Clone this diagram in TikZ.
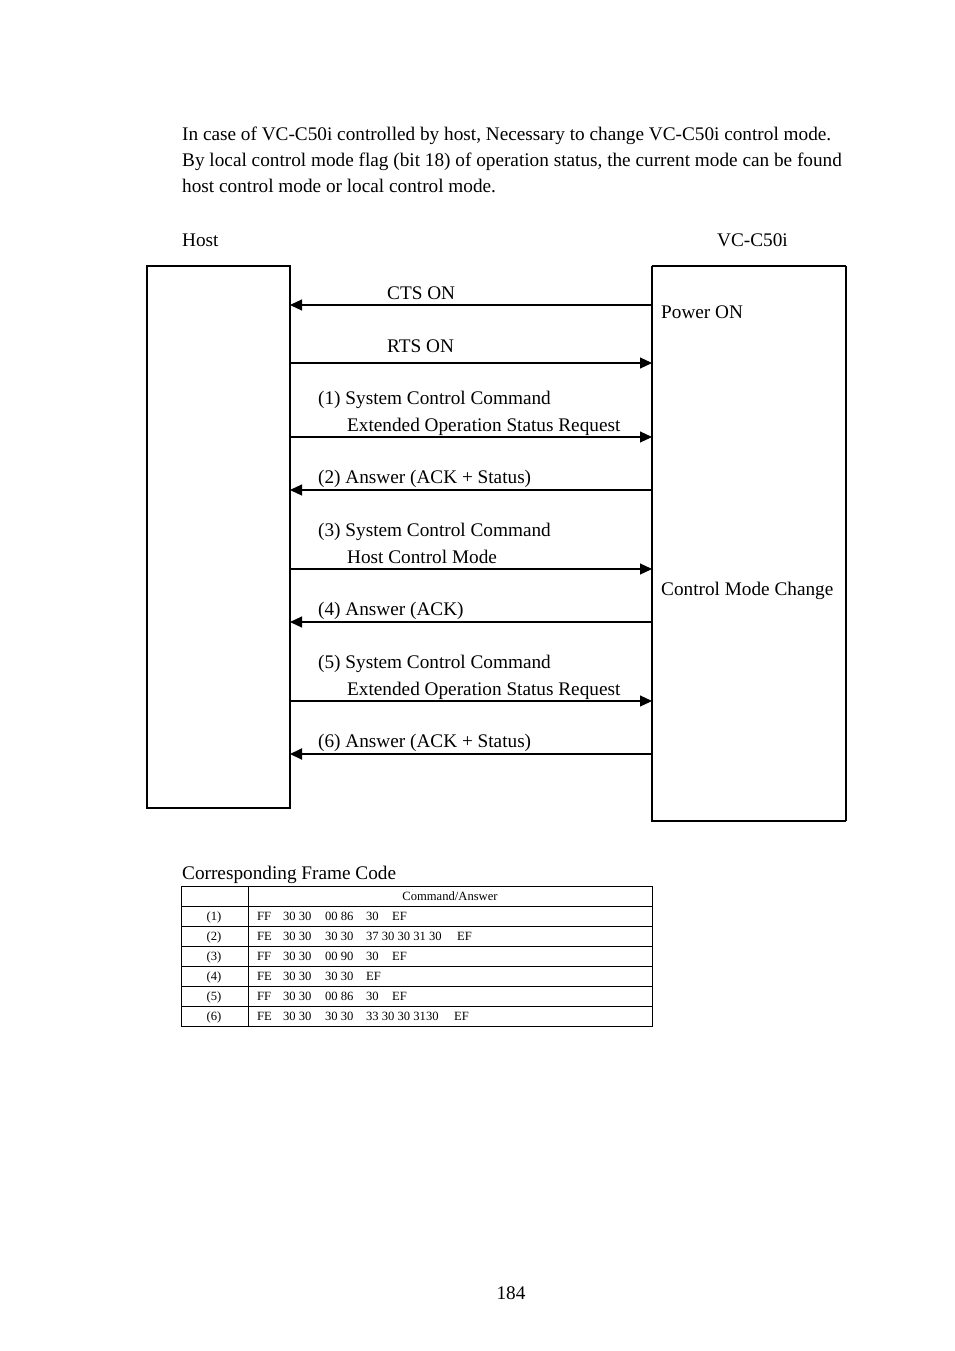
\documentclass[tikz,border=0pt]{standalone}
\usepackage{fontspec}
\setmainfont{Liberation Serif}
\usetikzlibrary{arrows.meta}
\begin{document}
\begin{tikzpicture}[x=1pt,y=-1pt,
  txt/.style={anchor=base west,inner sep=0pt,font=\fontsize{19.25}{24}\selectfont},
  tbl/.style={anchor=base west,inner sep=0pt,font=\fontsize{12.6}{14}\selectfont},
  tblc/.style={anchor=base,inner sep=0pt,font=\fontsize{12.6}{14}\selectfont},
  lifebox/.style={draw,line width=1.2pt,inner sep=0pt},
  msg/.style={line width=1.2pt,-{Triangle[length=12pt,width=11pt]}},
  grid/.style={line width=1pt}]
\useasboundingbox (0,0) rectangle (954,1351);

% intro text
\node[txt] (p1) at (182,141) {In case of VC-C50i controlled by host, Necessary to change VC-C50i control mode.};
\node[txt] (p2) at (182,167) {By local control mode flag (bit 18) of operation status, the current mode can be found};
\node[txt] (p3) at (182,193) {host control mode or local control mode.};

\node[txt] (hostlbl) at (182,246) {Host};
\node[txt] (vclbl) at (717,246) {VC-C50i};

% boxes
\draw[lifebox] (147,266) rectangle (290,808);
\draw[lifebox] (652,266) -- (846,266);
\draw[lifebox] (652,266) -- (652,821) -- (846,821);
\draw[line width=2pt] (846,266) -- (846,821);

\node[txt] (pon) at (661,318) {Power ON};
\node[txt] (cmc) at (661,595) {Control Mode Change};

% lifeline coordinates
\foreach \n/\y in {1/305,2/363,3/437,4/490,5/569,6/622,7/701,8/754}{
  \coordinate (h\n) at (290,\y);
  \coordinate (v\n) at (652,\y);
}

\draw[msg] (v1) -- (h1);
\node[txt] (l1) at (387,299) {CTS ON};

\draw[msg] (h2) -- (v2);
\node[txt] (l2) at (387,352) {RTS ON};

\node[txt] (l3a) at (318,404) {(1) System Control Command};
\node[txt] (l3b) at (347,431) {Extended Operation Status Request};
\draw[msg] (h3) -- (v3);

\node[txt] (l4) at (318,483) {(2) Answer (ACK + Status)};
\draw[msg] (v4) -- (h4);

\node[txt] (l5a) at (318,536) {(3) System Control Command};
\node[txt] (l5b) at (347,563) {Host Control Mode};
\draw[msg] (h5) -- (v5);

\node[txt] (l6) at (318,615) {(4) Answer (ACK)};
\draw[msg] (v6) -- (h6);

\node[txt] (l7a) at (318,668) {(5) System Control Command};
\node[txt] (l7b) at (347,695) {Extended Operation Status Request};
\draw[msg] (h7) -- (v7);

\node[txt] (l8) at (318,747) {(6) Answer (ACK + Status)};
\draw[msg,line width=2pt] (v8) -- (h8);

% table
\node[txt] (tcap) at (182,879) {Corresponding Frame Code};
\draw[grid] (181,886) rectangle (652,1026);
\draw[grid] (248,886) -- (248,1026);
\foreach \y in {906,926,946,966,986,1006}{
  \draw[grid] (181,\y) -- (652,\y);
}
\node[tblc] (th) at (450,900) {Command/Answer};
\foreach \i/\y in {1/920,2/940,3/960,4/980,5/1000,6/1020}{
  \node[tblc] (r\i) at (214,\y) {(\i)};
}
\newcommand{\cA}[1]{\makebox[26pt][l]{#1}}
\newcommand{\cB}[1]{\makebox[42pt][l]{#1}}
\newcommand{\cC}[1]{\makebox[41pt][l]{#1}}
\node[tbl] (c1) at (257,920) {\cA{FF}\cB{30 30}\cC{00 86}\makebox[26pt][l]{30}EF};
\node[tbl] (c2) at (257,940) {\cA{FE}\cB{30 30}\cC{30 30}\makebox[91pt][l]{37 30 30 31 30}EF};
\node[tbl] (c3) at (257,960) {\cA{FF}\cB{30 30}\cC{00 90}\makebox[26pt][l]{30}EF};
\node[tbl] (c4) at (257,980) {\cA{FE}\cB{30 30}\cC{30 30}EF};
\node[tbl] (c5) at (257,1000) {\cA{FF}\cB{30 30}\cC{00 86}\makebox[26pt][l]{30}EF};
\node[tbl] (c6) at (257,1020) {\cA{FE}\cB{30 30}\cC{30 30}\makebox[88pt][l]{33 30 30 3130}EF};

\node[txt,anchor=base] (pg) at (511,1299) {184};
\end{tikzpicture}
\end{document}
